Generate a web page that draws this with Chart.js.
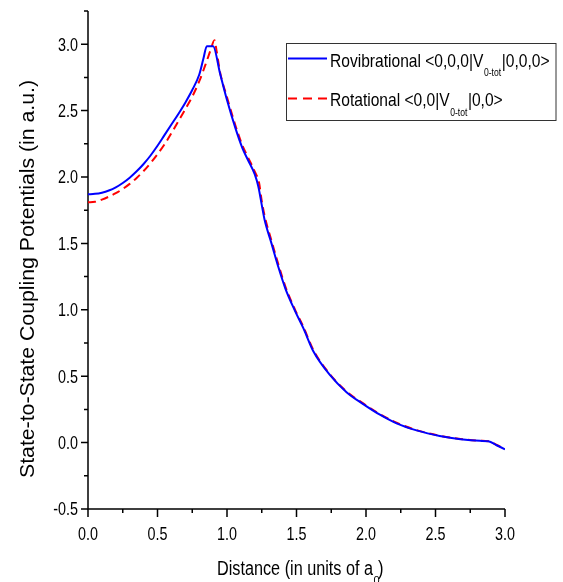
<!DOCTYPE html>
<html><head><meta charset="utf-8">
<script src="https://cdn.jsdelivr.net/npm/chart.js@4.4.1/dist/chart.umd.min.js"></script>
<style>html,body{margin:0;padding:0;background:#fff}#wrap{width:563px;height:582px;position:relative}</style>
</head><body><div id="wrap"><canvas id="c" width="563" height="582"></canvas></div>
<script>
// ---- data ----
const rovibX = [0.00,0.05,0.10,0.15,0.20,0.25,0.30,0.35,0.40,0.45,0.50,0.55,0.60,0.65,0.70,0.75,0.80,0.83,0.855,0.90,0.95,1.00,1.06,1.11,1.15,1.20,1.225,1.25,1.27,1.32,1.37,1.42,1.49,1.55,1.62,1.74,1.86,1.98,2.10,2.22,2.37,2.53,2.68,2.82,2.88,2.94,3.00];
const rovibY = [1.870,1.873,1.882,1.898,1.922,1.955,1.995,2.043,2.098,2.162,2.235,2.315,2.395,2.475,2.560,2.655,2.770,2.890,2.985,2.985,2.780,2.580,2.370,2.220,2.130,2.020,1.930,1.790,1.680,1.500,1.320,1.160,0.990,0.860,0.690,0.510,0.380,0.290,0.210,0.145,0.090,0.050,0.025,0.013,0.010,-0.020,-0.050];
const rotX = [0.00,0.05,0.10,0.15,0.20,0.25,0.30,0.35,0.40,0.45,0.50,0.55,0.60,0.65,0.70,0.75,0.80,0.85,0.88,0.91,0.925,0.95,1.00,1.06,1.11,1.15,1.20,1.23,1.25,1.27,1.32,1.37,1.42,1.49,1.55,1.62,1.74,1.86,1.98,2.10,2.22,2.37,2.53,2.68,2.82,2.88,2.94,3.00];
const rotY = [1.810,1.813,1.830,1.852,1.878,1.910,1.948,1.993,2.045,2.105,2.172,2.245,2.330,2.420,2.510,2.605,2.720,2.860,2.950,3.030,2.950,2.790,2.600,2.390,2.240,2.150,2.040,1.960,1.820,1.710,1.520,1.340,1.175,1.000,0.870,0.700,0.515,0.385,0.295,0.215,0.150,0.092,0.052,0.027,0.014,0.011,-0.018,-0.050];
const xTicks = [0,0.5,1,1.5,2,2.5,3];
const xMinorTicks = [0.25,0.75,1.25,1.75,2.25,2.75];
const yTicks = [-0.5,0,0.5,1,1.5,2,2.5,3];
const yMinorTicks = [-0.25,0.25,0.75,1.25,1.75,2.25,2.75,3.25];
const xTitleParts = ['Distance (in units of a','0',')'];
const yTitle = 'State-to-State Coupling Potentials (in a.u.)';
const legendParts = [['Rovibrational <0,0,0|V','0-tot','|0,0,0>'],['Rotational <0,0|V','0-tot','|0,0>']];
const seriesNames = ['Rovibrational <0,0,0|V0-tot|0,0,0>','Rotational <0,0|V0-tot|0,0>'];

const FONT = '"Liberation Sans", Arial, sans-serif';
const BLUE = '#0000ff', RED = '#ff0000';
const NARROW = 0.82;

function fitText(ctx, text, x, y, size, width) {
  ctx.font = size + 'px ' + FONT;
  const m = ctx.measureText(text).width;
  const sx = width ? width / m : 1;
  ctx.save(); ctx.translate(x, y); ctx.scale(sx, 1);
  ctx.textAlign = 'left'; ctx.textBaseline = 'alphabetic';
  ctx.fillText(text, 0, 0); ctx.restore();
  return m * sx;
}
function narrowText(ctx, text, x, y, size, align, factor) {
  ctx.font = size + 'px ' + FONT;
  const w = ctx.measureText(text).width * factor;
  let x0 = x;
  if (align === 'center') x0 = x - w / 2; else if (align === 'right') x0 = x - w;
  ctx.save(); ctx.translate(x0, y); ctx.scale(factor, 1);
  ctx.textAlign = 'left'; ctx.textBaseline = 'alphabetic';
  ctx.fillText(text, 0, 0); ctx.restore();
  return w;
}

const axesPlugin = {
  id: 'axesPlugin',
  beforeDatasetsDraw(chart) {
    const ctx = chart.ctx, xs = chart.scales.x, ys = chart.scales.y;
    const x0 = xs.getPixelForValue(0), x1 = xs.getPixelForValue(3);
    const yb = ys.getPixelForValue(-0.5), yt = ys.getPixelForValue(3.25);
    ctx.save();
    ctx.strokeStyle = '#000'; ctx.lineWidth = 1.5;
    ctx.beginPath(); ctx.moveTo(x0, yt); ctx.lineTo(x0, yb); ctx.lineTo(x1, yb); ctx.stroke();
    ctx.beginPath();
    xTicks.forEach(v => { const p = xs.getPixelForValue(v); ctx.moveTo(p, yb); ctx.lineTo(p, yb + 8); });
    xMinorTicks.forEach(v => { const p = xs.getPixelForValue(v); ctx.moveTo(p, yb); ctx.lineTo(p, yb + 4); });
    yTicks.forEach(v => { const p = ys.getPixelForValue(v); ctx.moveTo(x0, p); ctx.lineTo(x0 - 7, p); });
    yMinorTicks.forEach(v => { const p = ys.getPixelForValue(v); ctx.moveTo(x0, p); ctx.lineTo(x0 - 4, p); });
    ctx.stroke();
    ctx.restore();
  },
  afterDraw(chart) {
    const ctx = chart.ctx, xs = chart.scales.x, ys = chart.scales.y;
    ctx.save();
    ctx.fillStyle = '#000';
    // tick labels
    xTicks.forEach(v => narrowText(ctx, v.toFixed(1), xs.getPixelForValue(v), 539.5, 17.5, 'center', NARROW));
    yTicks.forEach(v => narrowText(ctx, v.toFixed(1), 78, ys.getPixelForValue(v) + 6.3, 17.5, 'right', NARROW));
    // x title
    const w0 = fitText(ctx, xTitleParts[0], 217, 575, 20, 156);
    fitText(ctx, xTitleParts[1], 217 + w0 + 0.5, 584, 11);
    fitText(ctx, xTitleParts[2], 217 + w0 + 5, 575, 20, 5.5);
    // y title
    ctx.save();
    ctx.translate(33.5, 279); ctx.rotate(-Math.PI / 2);
    ctx.font = '20px ' + FONT;
    const m = ctx.measureText(yTitle).width;
    ctx.scale(398 / m, 1);
    ctx.textAlign = 'center'; ctx.textBaseline = 'alphabetic';
    ctx.fillText(yTitle, 0, 0);
    ctx.restore();
    // legend box
    ctx.strokeStyle = '#333'; ctx.lineWidth = 1;
    ctx.strokeRect(286.5, 43.5, 269.5, 77);
    // legend samples
    ctx.lineWidth = 2;
    ctx.strokeStyle = BLUE; ctx.setLineDash([]);
    ctx.beginPath(); ctx.moveTo(288, 58.5); ctx.lineTo(327, 58.5); ctx.stroke();
    ctx.strokeStyle = RED; ctx.setLineDash([9, 6]);
    ctx.beginPath(); ctx.moveTo(288, 98.5); ctx.lineTo(327, 98.5); ctx.stroke();
    ctx.setLineDash([]);
    // legend texts
    const rows = [{y: 66.5, sub: 75.5}, {y: 106, sub: 115.5}];
    legendParts.forEach((parts, i) => {
      const r = rows[i];
      let x = 330;
      x += narrowText(ctx, parts[0], x, r.y, 19, 'left', NARROW) + 0.5;
      x += narrowText(ctx, parts[1], x, r.sub, 10.5, 'left', NARROW) + 0.5;
      narrowText(ctx, parts[2], x, r.y, 19, 'left', NARROW);
    });
    ctx.restore();
  }
};

new Chart(document.getElementById('c'), {
  type: 'line',
  data: {
    datasets: [
      { label: seriesNames[0], data: rovibX.map((x, i) => ({x, y: rovibY[i]})), borderColor: BLUE, borderWidth: 2, pointRadius: 0, cubicInterpolationMode: 'monotone', fill: false },
      { label: seriesNames[1], data: rotX.map((x, i) => ({x, y: rotY[i]})), borderColor: RED, borderWidth: 2, borderDash: [8, 5], pointRadius: 0, cubicInterpolationMode: 'monotone', fill: false }
    ]
  },
  options: {
    responsive: false, animation: false, devicePixelRatio: 1,
    layout: { padding: { left: 88, right: 58, top: 11, bottom: 73 } },
    plugins: { legend: { display: false }, tooltip: { enabled: false } },
    scales: {
      x: { type: 'linear', min: 0, max: 3, display: false },
      y: { type: 'linear', min: -0.5, max: 3.25, display: false }
    }
  },
  plugins: [axesPlugin]
});
</script>
</body></html>
